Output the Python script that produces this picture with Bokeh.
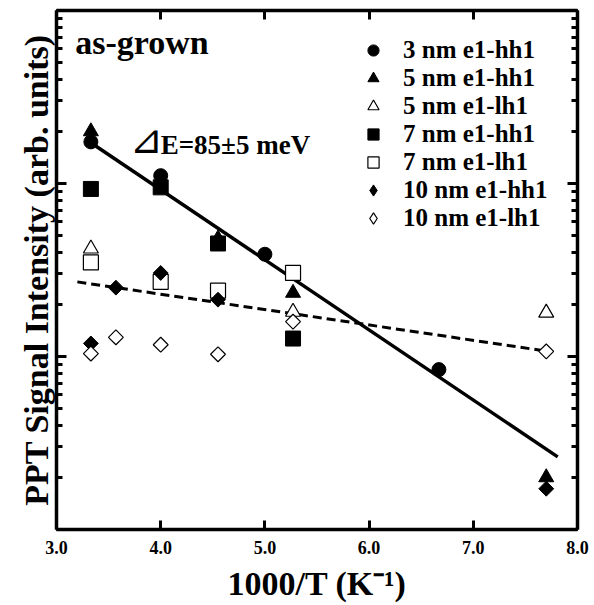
import math
from bokeh.plotting import figure
from bokeh.models import (Range1d, LinearAxis, LogAxis, FixedTicker, Label, Legend, LegendItem,
                          NumeralTickFormatter, LogTicker, CustomJSTickFormatter)
from bokeh.embed import file_html
from bokeh.resources import INLINE

# ---- data ----
x_3nm_hh = [3.33, 4.00, 5.00, 6.67]
y_3nm_hh = [17.4, 11.1, 3.9, 0.84]
x_5nm_hh = [3.33, 4.55, 5.27, 7.70]
y_5nm_hh = [20.0, 4.8, 2.33, 0.20]
x_5nm_lh = [3.33, 5.27, 7.70]
y_5nm_lh = [4.2, 1.81, 1.79]
x_7nm_hh = [3.33, 4.00, 4.55, 5.27]
y_7nm_hh = [9.3, 9.5, 4.5, 1.27]
x_7nm_lh = [3.33, 4.00, 4.55, 5.27]
y_7nm_lh = [3.5, 2.7, 2.4, 3.04]
x_10nm_hh = [3.33, 3.57, 4.00, 4.55, 7.70]
y_10nm_hh = [1.19, 2.5, 3.04, 2.13, 0.172]
x_10nm_lh = [3.33, 3.57, 4.00, 4.55, 5.27, 7.70]
y_10nm_lh = [1.04, 1.29, 1.17, 1.03, 1.59, 1.07]

fit_x = [3.33, 7.81]
fit_y = [17.2, 0.263]
dash_x = [3.20, 7.72]
dash_y = [2.7, 1.07]

x_ticks = [3, 4, 5, 6, 7, 8]

FONT = "Liberation Serif"
BLANK = CustomJSTickFormatter(code="return ''")

p = figure(width=594, height=605, output_backend="svg", toolbar_location=None,
           x_range=Range1d(3, 8), y_range=Range1d(0.1, 100), y_axis_type="log",
           min_border_left=56, min_border_right=17, min_border_top=10, min_border_bottom=76,
           x_axis_location=None, y_axis_location=None)
p.xgrid.visible = False
p.ygrid.visible = False
p.outline_line_color = None
p.background_fill_color = "white"
p.border_fill_color = "white"

def style_x(ax, labels):
    ax.ticker = FixedTicker(ticks=x_ticks)
    ax.axis_line_width = 3.5
    ax.major_tick_line_width = 3
    ax.major_tick_in = 9
    ax.major_tick_out = 0
    ax.minor_tick_line_color = None
    ax.major_label_text_font = FONT
    ax.major_label_text_font_style = "bold"
    ax.major_label_text_color = "black"
    ax.major_label_text_font_size = "18px"
    if labels:
        ax.formatter = NumeralTickFormatter(format="0.0")
        ax.major_label_standoff = 11
    else:
        ax.formatter = BLANK
        ax.major_label_standoff = 0

def style_y(ax):
    ax.ticker = LogTicker(num_minor_ticks=10)
    ax.formatter = BLANK
    ax.axis_line_width = 3.5
    ax.major_tick_line_width = 3
    ax.minor_tick_line_width = 3
    ax.major_tick_in = 10
    ax.major_tick_out = 0
    ax.minor_tick_in = 6
    ax.minor_tick_out = 0
    ax.major_label_standoff = 0

xb = LinearAxis(axis_label="1000/T (K\u207b\u00b9)")
style_x(xb, True)
xb.axis_label_text_font = FONT
xb.axis_label_text_font_style = "bold"
xb.axis_label_text_font_size = "34px"
xb.axis_label_text_color = "black"
xb.axis_label_standoff = 8
p.add_layout(xb, "below")

xt = LinearAxis()
style_x(xt, False)
p.add_layout(xt, "above")

yl = LogAxis(axis_label="PPT Signal Intensity (arb. units)")
style_y(yl)
yl.axis_label_text_font = FONT
yl.axis_label_text_font_style = "bold"
yl.axis_label_text_font_size = "34px"
yl.axis_label_text_color = "black"
yl.axis_label_standoff = 2
p.add_layout(yl, "left")

yr = LogAxis()
style_y(yr)
p.add_layout(yr, "right")

# fit lines
p.line(fit_x, fit_y, line_color="black", line_width=3.5)
p.line(dash_x, dash_y, line_color="black", line_width=3, line_dash="9 5")

# series
r1 = p.scatter(x_3nm_hh, y_3nm_hh, marker="circle", size=14, fill_color="black", line_color="black")
r2 = p.scatter(x_5nm_hh, y_5nm_hh, marker="triangle", size=15, fill_color="black", line_color="black")
r3 = p.scatter(x_5nm_lh, y_5nm_lh, marker="triangle", size=15, fill_color="white", line_color="black", line_width=1.2)
r4 = p.scatter(x_7nm_hh, y_7nm_hh, marker="square", size=15, fill_color="black", line_color="black")
r5 = p.scatter(x_7nm_lh, y_7nm_lh, marker="square", size=15, fill_color="white", line_color="black", line_width=1.2)
# diamond markers (hidden beneath the rotated squares) used for the legend swatches
l6 = p.scatter(x_10nm_hh, y_10nm_hh, marker="diamond", size=12, fill_color="black", line_color="black")
l7 = p.scatter(x_10nm_lh, y_10nm_lh, marker="diamond", size=12, fill_color="white", line_color="black", line_width=1.2)
r6 = p.scatter(x_10nm_hh, y_10nm_hh, marker="square", angle=math.pi / 4,
               size=10.5, fill_color="black", line_color="black")
r7 = p.scatter(x_10nm_lh, y_10nm_lh, marker="square", angle=math.pi / 4,
               size=10.5, fill_color="white", line_color="black", line_width=1.2)

legend = Legend(items=[
    LegendItem(label="3 nm e1-hh1", renderers=[r1]),
    LegendItem(label="5 nm e1-hh1", renderers=[r2]),
    LegendItem(label="5 nm e1-lh1", renderers=[r3]),
    LegendItem(label="7 nm e1-hh1", renderers=[r4]),
    LegendItem(label="7 nm e1-lh1", renderers=[r5]),
    LegendItem(label="10 nm e1-hh1", renderers=[l6]),
    LegendItem(label="10 nm e1-lh1", renderers=[l7]),
], location=(303, 297))
legend.border_line_color = None
legend.background_fill_alpha = 0
legend.margin = 0
legend.padding = 0
legend.spacing = 0
legend.glyph_width = 28
legend.glyph_height = 28
legend.label_height = 28
legend.label_standoff = 16
legend.label_text_font = FONT
legend.label_text_font_style = "bold"
legend.label_text_font_size = "25px"
legend.label_text_color = "black"
legend.label_text_baseline = "middle"
p.add_layout(legend, "center")

p.add_layout(Label(x=3.18, y=65, text="as-grown", text_font=FONT, text_font_style="bold",
                   text_font_size="34px", text_baseline="alphabetic", text_color="black"))
p.add_layout(Label(x=3.70, y=18.0, text="\u22bf", text_font="DejaVu Sans",
                   text_font_size="40px", text_baseline="alphabetic", text_color="black"))
p.add_layout(Label(x=4.0, y=16.8, text="E=85\u00b15 meV", text_font=FONT, text_font_style="bold",
                   text_font_size="27px", text_baseline="alphabetic", text_color="black"))

open("out.html", "w").write(file_html(p, INLINE))
